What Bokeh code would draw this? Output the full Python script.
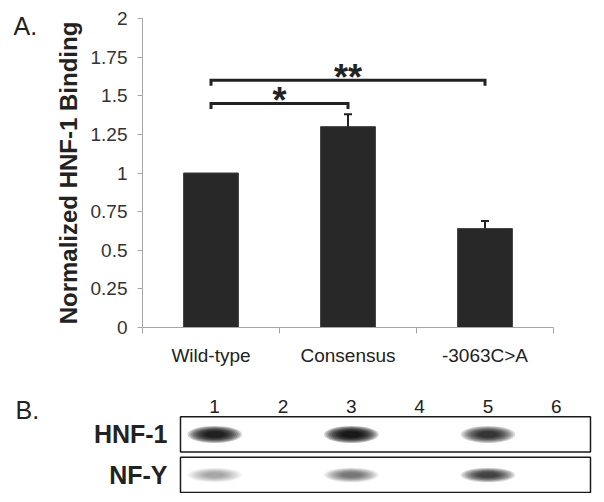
from bokeh.plotting import figure
from bokeh.models import (Range1d, LinearAxis, FixedTicker, CustomJSTickFormatter, Whisker,
                          TeeHead, ColumnDataSource)
from bokeh.layouts import column, row
from bokeh.embed import file_html
from bokeh.resources import INLINE
from bokeh.core.properties import value

# ---------------- data ----------------
categories = ["Wild-type", "Consensus", "-3063C>A"]
binding = [1.0, 1.30, 0.64]
binding_err = [0.0, 0.08, 0.05]
y_ticks = [0, 0.25, 0.5, 0.75, 1, 1.25, 1.5, 1.75, 2]
comparisons = [("Wild-type", "Consensus"), ("Wild-type", "-3063C>A")]
comparison_level = [1.45, 1.60]
comparison_marks = ["*", "**"]

lanes = ["1", "2", "3", "4", "5", "6"]
gel_rows = ["HNF-1", "NF-Y"]
hnf1_signal = [0.9, 0.0, 1.0, 0.0, 0.7, 0.0]
nfy_signal = [0.2, 0.0, 0.35, 0.0, 0.6, 0.0]

# ---------------- style ----------------
FONT = "Liberation Sans"
INK = "#222222"
AXIS_GRAY = "#a6a6a6"


def no_align(p):
    if "frame_align" in p.properties():
        p.frame_align = False


def blank(p):
    p.grid.grid_line_color = None
    p.outline_line_color = None


# category slots on a numeric axis: slot i spans [i, i+1], centred at i+0.5
ncat = len(categories)
idx = {c: i + 0.5 for i, c in enumerate(categories)}
cat_x = [idx[c] for c in categories]

TOP_H = 377

# ---------------- panel letter A ----------------
pa = figure(width=48, height=TOP_H, x_range=Range1d(0, 1), y_range=Range1d(0, 1),
            min_border=0, toolbar_location=None, output_backend="svg",
            x_axis_location=None, y_axis_location=None)
blank(pa)
no_align(pa)
pa.text(x=[0], y=[1], text=["A."], x_offset=13, y_offset=11, text_align="left",
        text_baseline="top", text_font=value(FONT), text_font_size="25px", text_color=INK)

# ---------------- panel A ----------------
p1 = figure(width=548, height=TOP_H, x_range=Range1d(0, ncat), y_range=Range1d(0, 2),
            x_axis_location=None, y_axis_location=None, toolbar_location=None,
            output_backend="svg", min_border_left=94, min_border_right=43,
            min_border_top=18, min_border_bottom=50)
blank(p1)
no_align(p1)

yaxis = LinearAxis(ticker=FixedTicker(ticks=y_ticks),
                   formatter=CustomJSTickFormatter(code="return tick.toString()"),
                   axis_label="Normalized HNF-1 Binding", axis_label_text_font=FONT,
                   axis_label_text_font_style="bold", axis_label_text_font_size="24px",
                   axis_label_text_color=INK, axis_label_standoff=6,
                   major_label_text_font=FONT, major_label_text_font_size="19px",
                   major_label_text_color="#333333", major_label_standoff=10,
                   major_tick_out=5, major_tick_in=0, minor_tick_out=0, minor_tick_in=0,
                   axis_line_color=AXIS_GRAY, major_tick_line_color=AXIS_GRAY)
p1.add_layout(yaxis, "left")

edge_axis = LinearAxis(ticker=FixedTicker(ticks=list(range(ncat + 1))),
                       formatter=CustomJSTickFormatter(code="return ''"),
                       major_tick_out=6, major_tick_in=0, minor_tick_out=0, minor_tick_in=0,
                       major_label_standoff=0,
                       axis_line_color=AXIS_GRAY, major_tick_line_color=AXIS_GRAY)
p1.add_layout(edge_axis, "below")
cat_axis = LinearAxis(ticker=FixedTicker(ticks=cat_x),
                      formatter=CustomJSTickFormatter(args=dict(labels=categories),
                                                      code="return labels[Math.floor(tick)]"),
                      axis_line_color=None, major_tick_line_color=None,
                      major_tick_out=0, major_tick_in=0, minor_tick_out=0, minor_tick_in=0,
                      major_label_text_font=FONT, major_label_text_font_size="19px",
                      major_label_text_color=INK, major_label_standoff=11)
p1.add_layout(cat_axis, "below")

src = ColumnDataSource(dict(x=cat_x, val=binding))
p1.vbar(x="x", top="val", width=0.4, source=src, fill_color="#282828",
        line_color="#3c3c3c", line_width=1)

wx = [idx[c] for c, e in zip(categories, binding_err) if e > 0]
wlo = [v for v, e in zip(binding, binding_err) if e > 0]
wup = [v + e for v, e in zip(binding, binding_err) if e > 0]
wsrc = ColumnDataSource(dict(x=wx, lo=wlo, up=wup))
p1.add_layout(Whisker(source=wsrc, base="x", lower="lo", upper="up", line_color=INK,
                      line_width=2, level="overlay",
                      upper_head=TeeHead(size=8, line_color=INK, line_width=2),
                      lower_head=None))

tick_len = 0.035
bx, by = [], []
for (a, b), lvl in zip(comparisons, comparison_level):
    bx.append([idx[a], idx[a], idx[b], idx[b]])
    by.append([lvl - tick_len, lvl, lvl, lvl - tick_len])
p1.multi_line(bx, by, line_color=INK, line_width=3, line_join="miter")
p1.text(x=[(idx[a] + idx[b]) / 2 for a, b in comparisons], y=comparison_level,
        text=comparison_marks, text_align="center",
        text_baseline="alphabetic", y_offset=-3, text_font=value(FONT),
        text_font_style="bold", text_font_size="36px", text_color=INK)

# ---------------- panel B ----------------
n = len(lanes)
p2 = figure(width=596, height=116, x_range=Range1d(-2.634, n + 0.088),
            y_range=Range1d(1.457, -1.407), min_border=0, toolbar_location=None,
            output_backend="svg", x_axis_location=None, y_axis_location=None)
blank(p2)
no_align(p2)

row_y = list(range(len(gel_rows)))
p2.rect(x=n / 2, y=row_y, width=n, height=0.87, fill_color="white", line_color=None)

band_w = 0.64
band_h = [0.34, 0.29]
for r, sig in enumerate([hnf1_signal, nfy_signal]):
    lx = [i + 0.5 for i, s in enumerate(sig) if s > 0]
    ss = [s for s in sig if s > 0]
    for k in range(10):
        scale = 1.25 - 0.09 * k
        p2.ellipse(x=lx, y=r, width=band_w * scale, height=band_h[r] * scale,
                   fill_color="black", fill_alpha=[0.2 * s for s in ss], line_color=None)

p2.rect(x=n / 2, y=row_y, width=n, height=0.87, fill_color=None, line_color="#1a1a1a",
        line_width=1.5)

p2.text(x=[i + 0.5 for i in range(n)], y=-0.69, text=lanes, text_align="center",
        text_baseline="middle", text_font=value(FONT), text_font_size="19px",
        text_color=INK)
p2.text(x=0, y=row_y, text=gel_rows, x_offset=-13, text_align="right",
        text_baseline="middle", text_font=value(FONT), text_font_style="bold",
        text_font_size="25px", text_color=INK)
p2.text(x=[-2.634], y=[-1.407], text=["B."], x_offset=15, y_offset=32, text_align="left",
        text_baseline="middle", text_font=value(FONT), text_font_size="25px",
        text_color=INK)

layout = column(row(pa, p1), p2)
open("out.html", "w").write(file_html(layout, INLINE))
